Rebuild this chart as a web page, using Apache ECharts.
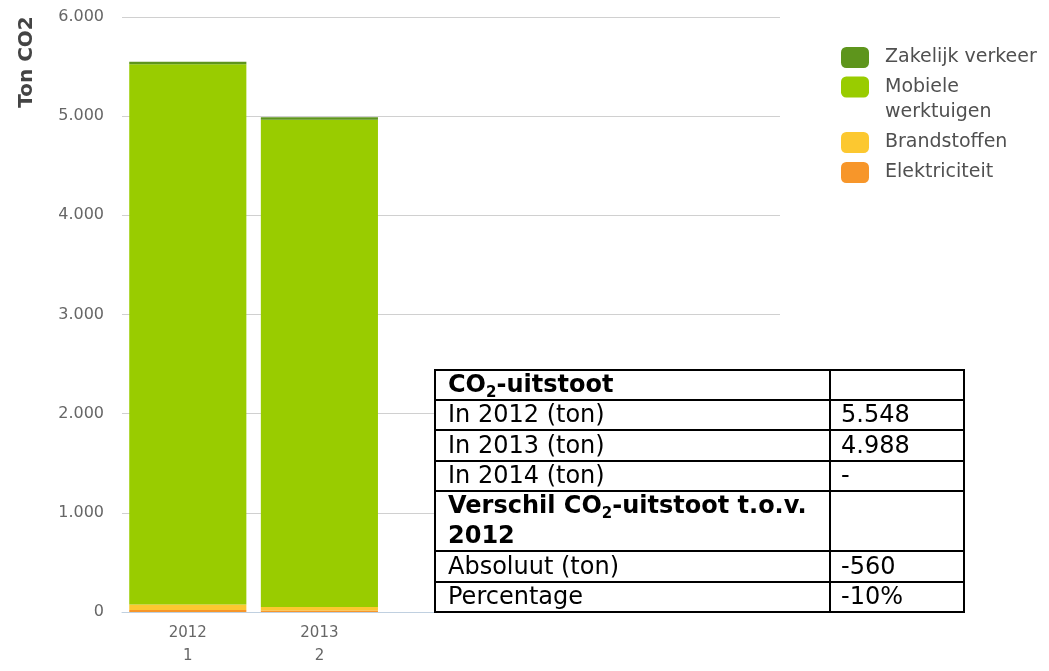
<!DOCTYPE html>
<html>
<head>
<meta charset="utf-8">
<script src="https://cdn.jsdelivr.net/npm/echarts@6/dist/echarts.min.js"></script>
<style>
  html, body { margin: 0; padding: 0; background: #fff; }
  #chart { width: 1049px; height: 671px; }
</style>
</head>
<body>
<div id="chart"></div>
<script>
// categories on the x axis (only the first two have values)
const categories = ['2012\n1', '2013\n2', '', '', ''];

// stacked series, bottom to top
const elektriciteit = [20, 15];
const brandstoffen = [55, 35];
const mobieleWerktuigen = [5448, 4913];
const zakelijkVerkeer = [25, 25];

const yTicks = [0, 1000, 2000, 3000, 4000, 5000, 6000];

// the overlaid summary table
const tableLabels = [
  '{b|CO}{s|2}{b|-uitstoot}',
  'In 2012 (ton)',
  'In 2013 (ton)',
  'In 2014 (ton)',
  '{b|Verschil CO}{s|2}{b|-uitstoot t.o.v.}\n{b|2012}',
  'Absoluut (ton)',
  'Percentage'
];
const tableValues = ['', '5.548', '4.988', '-', '', '-560', '-10%'];

const chart = echarts.init(document.getElementById('chart'));
const font = 'DejaVu Sans';

// table geometry
const tLeft = 435, tSplit = 830, tRight = 964;
const rowEdges = [370, 400, 430, 461, 491, 551, 582, 612];

const tableRich = {
  b: { fontFamily: font, fontSize: 24, fontWeight: 'bold', lineHeight: 30, fill: '#000' },
  s: { fontFamily: font, fontSize: 15, fontWeight: 'bold', lineHeight: 14, verticalAlign: 'bottom', fill: '#000' }
};

const tableGraphics = [{
  type: 'rect',
  shape: { x: tLeft, y: rowEdges[0], width: tRight - tLeft, height: rowEdges[rowEdges.length - 1] - rowEdges[0] },
  style: { fill: '#fff', stroke: '#000', lineWidth: 2 },
  z: 100
}, {
  type: 'line',
  shape: { x1: tSplit, y1: rowEdges[0], x2: tSplit, y2: rowEdges[rowEdges.length - 1] },
  style: { stroke: '#000', lineWidth: 2 },
  z: 101
}];

for (let i = 1; i < rowEdges.length - 1; i++) {
  tableGraphics.push({
    type: 'line',
    shape: { x1: tLeft, y1: rowEdges[i], x2: tRight, y2: rowEdges[i] },
    style: { stroke: '#000', lineWidth: 2 },
    z: 101
  });
}

tableLabels.forEach(function (label, i) {
  const yMid = (rowEdges[i] + rowEdges[i + 1]) / 2 + 1;
  tableGraphics.push({
    type: 'text',
    x: tLeft + 13,
    y: yMid,
    style: {
      text: label,
      rich: tableRich,
      fontFamily: font,
      fontSize: 24,
      lineHeight: 30,
      fill: '#000',
      verticalAlign: 'middle'
    },
    z: 102
  });
  if (tableValues[i]) {
    tableGraphics.push({
      type: 'text',
      x: tSplit + 11,
      y: yMid,
      style: { text: tableValues[i], fontFamily: font, fontSize: 24, fill: '#000', verticalAlign: 'middle' },
      z: 102
    });
  }
});

// y axis title
tableGraphics.push({
  type: 'text',
  x: 27,
  y: 62,
  rotation: Math.PI / 2,
  style: {
    text: 'Ton CO2',
    fontFamily: font,
    fontSize: 20,
    fontWeight: 'bold',
    fill: '#444',
    align: 'center',
    verticalAlign: 'middle'
  }
});

const thousands = function (v) {
  return String(v).replace(/\B(?=(\d{3})+(?!\d))/g, '.');
};

const barSeries = function (name, data, color) {
  return {
    name: name,
    type: 'bar',
    stack: 'total',
    data: data,
    barCategoryGap: '11%',
    itemStyle: { color: color },
    emphasis: { disabled: true }
  };
};

const legendText = { fontFamily: font, fontSize: 19, lineHeight: 25, color: '#505050', padding: [0, 0, 0, 11] };
const legendBase = {
  orient: 'vertical',
  left: 841,
  padding: 0,
  itemGap: 5,
  itemWidth: 28,
  itemHeight: 21,
  icon: 'roundRect',
  textStyle: legendText
};

chart.setOption({
  animation: false,
  grid: { left: 122, right: 269, top: 17, bottom: 59 },
  // three legend blocks so the two-line entry keeps its icon on the first line
  legend: [
    Object.assign({}, legendBase, { top: 45, data: ['Zakelijk verkeer'] }),
    Object.assign({}, legendBase, {
      top: 62,
      data: ['Mobiele\nwerktuigen'],
      formatter: function () { return '{a|Mobiele}\n{z|werktuigen}'; },
      textStyle: Object.assign({}, legendText, {
        rich: {
          a: { fontFamily: font, fontSize: 19, color: '#505050', lineHeight: 50 },
          z: { fontFamily: font, fontSize: 19, color: '#505050', lineHeight: 0 }
        }
      })
    }),
    Object.assign({}, legendBase, { top: 130, data: ['Brandstoffen', 'Elektriciteit'] })
  ],
  xAxis: {
    type: 'category',
    data: categories,
    axisLine: { lineStyle: { color: '#c0d0e0' } },
    axisTick: { length: 6, lineStyle: { color: '#c0d0e0' } },
    axisLabel: { interval: 0, color: '#666', fontFamily: font, fontSize: 15, lineHeight: 23, margin: 10 }
  },
  yAxis: {
    type: 'value',
    min: yTicks[0],
    max: yTicks[yTicks.length - 1],
    interval: yTicks[1] - yTicks[0],
    axisLine: { show: false },
    axisTick: { show: false },
    splitLine: { lineStyle: { color: '#d0d0d0' } },
    axisLabel: { color: '#666', fontFamily: font, fontSize: 16, margin: 18, formatter: thousands }
  },
  series: [
    barSeries('Elektriciteit', elektriciteit, '#f7962a'),
    barSeries('Brandstoffen', brandstoffen, '#fcc830'),
    barSeries('Mobiele\nwerktuigen', mobieleWerktuigen, '#99cc00'),
    barSeries('Zakelijk verkeer', zakelijkVerkeer, '#5e951c')
  ],
  graphic: tableGraphics
});
</script>
</body>
</html>
